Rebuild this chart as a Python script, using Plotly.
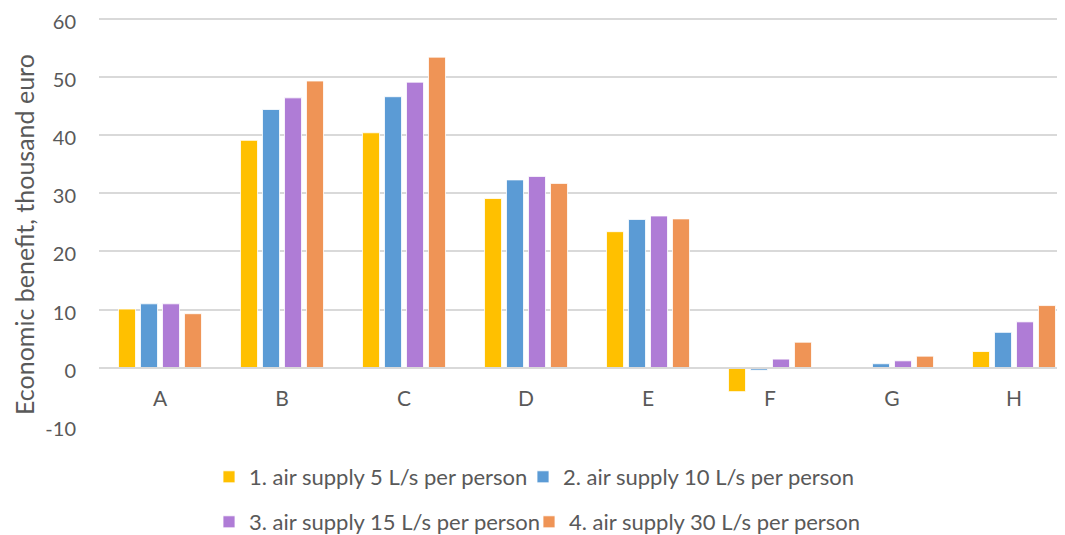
import plotly.graph_objects as go

categories = ["A", "B", "C", "D", "E", "F", "G", "H"]
series_names = [
    "1. air supply 5 L/s per person",
    "2. air supply 10 L/s per person",
    "3. air supply 15 L/s per person",
    "4. air supply 30 L/s per person",
]
s1 = [10.1, 39.1, 40.4, 29.1, 23.4, -4.1, -0.2, 2.8]
s2 = [11.0, 44.4, 46.6, 32.3, 25.5, -0.4, 0.7, 6.1]
s3 = [11.0, 46.4, 49.1, 32.9, 26.1, 1.5, 1.2, 7.9]
s4 = [9.3, 49.3, 53.4, 31.7, 25.6, 4.4, 2.0, 10.7]
colors = ["#FFC000", "#5B9BD5", "#AF7CD6", "#EF9456"]
y_ticks = [-10, 0, 10, 20, 30, 40, 50, 60]
y_ticktext = ["-10", "0", "10", "20", "30", "40", "50", "60"]
y_title = "Economic benefit, thousand euro"

# page has an 8px body margin, so the figure is offset by 8px
OFF = 8
W, H = 1057, 527
ml, mr, mt, mb = 91, 0, 9, 109
plot_w = W - ml - mr
plot_h = H - mt - mb
y_range = [-10, 60.3]
font = "Lato, 'Open Sans', sans-serif"
txt = "#595959"


def px_x(page_x):
    return (page_x - OFF - ml) / plot_w


def px_y(page_y):
    return (H - mb - (page_y - OFF)) / plot_h


legend_names = ["legend", "legend2", "legend3", "legend4"]
# marker centre positions (page px) of each legend entry
legend_pos = [(229, 477), (543, 477), (229, 522), (549, 522)]

fig = go.Figure()
for i, (name, vals) in enumerate(zip(series_names, [s1, s2, s3, s4])):
    fig.add_trace(go.Bar(
        x=categories, y=vals, name=name, showlegend=True,
        marker=dict(color=colors[i], line=dict(color="white", width=0.8)),
        legend=legend_names[i],
    ))

zero_pos = (0 - y_range[0]) / (y_range[1] - y_range[0])

layout = dict(
    width=W, height=H, showlegend=True,
    margin=dict(l=ml, r=mr, t=mt, b=mb, autoexpand=False),
    paper_bgcolor="white", plot_bgcolor="white",
    barmode="group", bargap=0.279, bargroupgap=0.227,
    font=dict(family=font, size=21, color=txt),
    xaxis=dict(
        range=[-0.5, 7.418], anchor="free", position=zero_pos,
        showgrid=False, showline=True, linecolor="#D9D9D9", linewidth=1.5,
        ticks="outside", ticklen=12, tickcolor="rgba(0,0,0,0)",
        tickfont=dict(size=21, color=txt), zeroline=False, automargin=False,
    ),
    yaxis=dict(
        range=y_range, tickvals=y_ticks, ticktext=y_ticktext, showgrid=True,
        gridcolor="#D9D9D9", gridwidth=1.5, zeroline=False,
        ticks="outside", ticklen=18, tickcolor="rgba(0,0,0,0)",
        tickfont=dict(size=20, color=txt), automargin=False,
        ticklabeloverflow="allow", ticklabelshift=3,
    ),
    annotations=[dict(
        text=y_title, textangle=-90, showarrow=False,
        xref="paper", yref="paper", x=px_x(24), y=px_y(235),
        xanchor="center", yanchor="middle",
        font=dict(size=25, color=txt),
    )],
)
for lname, (mx, my) in zip(legend_names, legend_pos):
    layout[lname] = dict(
        orientation="h", x=px_x(mx - 20), xanchor="left",
        y=px_y(my), yanchor="middle", visible=True,
        font=dict(size=22, color=txt), itemwidth=30,
        bgcolor="rgba(0,0,0,0)", borderwidth=0,
    )
fig.update_layout(**layout)

fig.write_html("out.html")
